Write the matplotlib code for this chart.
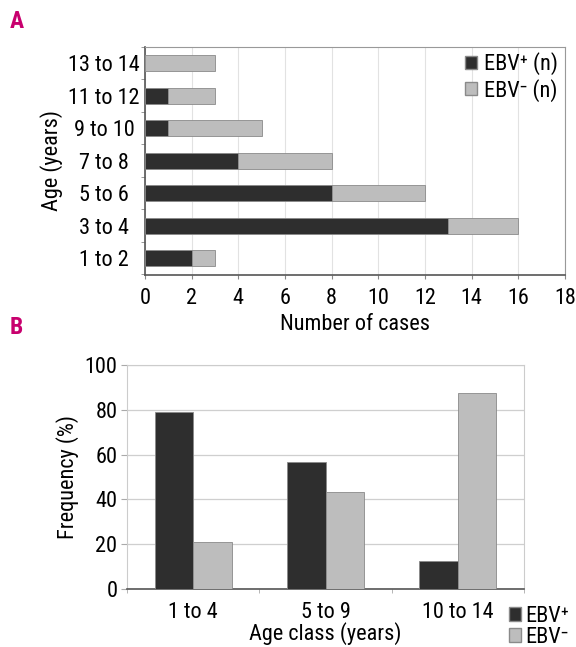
import matplotlib
matplotlib.use('Agg')
import matplotlib.pyplot as plt
from matplotlib.patches import Patch
import numpy as np

plt.rcParams['font.family'] = ['Roboto Condensed', 'Liberation Sans Narrow', 'DejaVu Sans']

# panel A data: number of cases by age
ages = ['1 to 2', '3 to 4', '5 to 6', '7 to 8', '9 to 10', '11 to 12', '13 to 14']
ebv_pos_n = [2, 13, 8, 4, 1, 1, 0]
ebv_neg_n = [1, 3, 4, 4, 4, 2, 3]

# panel B data: frequency by age class
age_class = ['1 to 4', '5 to 9', '10 to 14']
ebv_pos_pct = [78.9, 56.5, 12.5]
ebv_neg_pct = [21.1, 43.5, 87.5]

dark = '#2e2e2e'
light = '#bdbdbd'
edge = '#8a8a8a'
magenta = '#c8006e'
W, H = 576, 647
fs = 16

fig = plt.figure(figsize=(W / 100, H / 100), dpi=100)

#Panel A
axA = fig.add_axes([145 / W, 1 - 275 / H, 420 / W, 228 / H])
y = np.arange(len(ages))
axA.barh(y, ebv_pos_n, height=0.5, color=dark, edgecolor=edge, linewidth=0.6, zorder=3)
axA.barh(y, ebv_neg_n, left=ebv_pos_n, height=0.5, color=light, edgecolor=edge, linewidth=0.6, zorder=3)
axA.set_xlim(0, 18)
axA.set_ylim(-0.52, 6.5)
axA.set_xticks(range(0, 19, 2))
axA.set_yticks(y)
axA.set_yticklabels(ages, ha='center')
axA.set_yticks(np.arange(-0.5, 6.6, 1), minor=True)
axA.tick_params(axis='y', which='major', length=0, pad=29.5, labelsize=fs)
axA.tick_params(axis='y', which='minor', length=3, color='#888888')
axA.tick_params(axis='x', length=3, color='#888888', labelsize=fs, pad=6)
axA.grid(axis='x', color='#e2e2e2', linewidth=0.8, zorder=0)
for s in ['top', 'right']:
    axA.spines[s].set_color('#999999')
for s in ['left', 'bottom']:
    axA.spines[s].set_color('#555555')
    axA.spines[s].set_linewidth(1.2)
axA.set_xlabel('Number of cases', fontsize=fs, labelpad=4)
axA.set_ylabel('Age (years)', fontsize=fs, labelpad=4)
axA.legend(handles=[Patch(facecolor=dark, edgecolor=edge, label='EBV\u207a (n)'),
                    Patch(facecolor=light, edgecolor=edge, label='EBV\u207b (n)')],
           loc='upper right', bbox_to_anchor=(1.015, 1.035), frameon=False, fontsize=fs,
           handlelength=0.55, handleheight=0.55, handletextpad=0.3, labelspacing=0.15,
           borderaxespad=0.2)

#Panel B
axB = fig.add_axes([127 / W, 1 - 589 / H, 397 / W, 224 / H])
x = np.arange(len(age_class))
bw = 0.29
axB.bar(x - bw / 2, ebv_pos_pct, width=bw, color=dark, edgecolor=edge, linewidth=0.6, zorder=3)
axB.bar(x + bw / 2, ebv_neg_pct, width=bw, color=light, edgecolor=edge, linewidth=0.6, zorder=3)
axB.set_xlim(-0.5, 2.5)
axB.set_ylim(0, 100)
axB.set_yticks(range(0, 101, 20))
axB.set_xticks(x)
axB.set_xticklabels(age_class)
axB.set_xticks([-0.5, 0.5, 1.5, 2.5], minor=True)
axB.tick_params(axis='x', which='major', length=0, labelsize=fs, pad=9)
axB.tick_params(axis='x', which='minor', length=3, color='#aaaaaa')
axB.tick_params(axis='y', length=4, color='#aaaaaa', labelsize=fs, pad=3)
axB.grid(axis='y', color='#cfcfcf', linewidth=0.9, zorder=0)
for s in ['top', 'right', 'left']:
    axB.spines[s].set_color('#cccccc')
axB.spines['bottom'].set_color('#555555')
axB.spines['bottom'].set_linewidth(1.2)
axB.set_xlabel('Age class (years)', fontsize=fs, labelpad=0)
axB.set_ylabel('Frequency (%)', fontsize=fs, labelpad=4)
fig.legend(handles=[Patch(facecolor=dark, edgecolor=edge, label='EBV\u207a'),
                    Patch(facecolor=light, edgecolor=edge, label='EBV\u207b')],
           loc='upper left', bbox_to_anchor=(500 / W, 1 - 597 / H), frameon=False,
           fontsize=fs, handlelength=0.55, handleheight=0.55, handletextpad=0.2,
           labelspacing=0.0, borderaxespad=0)

fig.text(10 / W, 1 - 22 / H, 'A', color=magenta, fontsize=17, fontweight='bold', va='center')
fig.text(10 / W, 1 - 327 / H, 'B', color=magenta, fontsize=17, fontweight='bold', va='center')

fig.savefig('out.png', dpi=100)
